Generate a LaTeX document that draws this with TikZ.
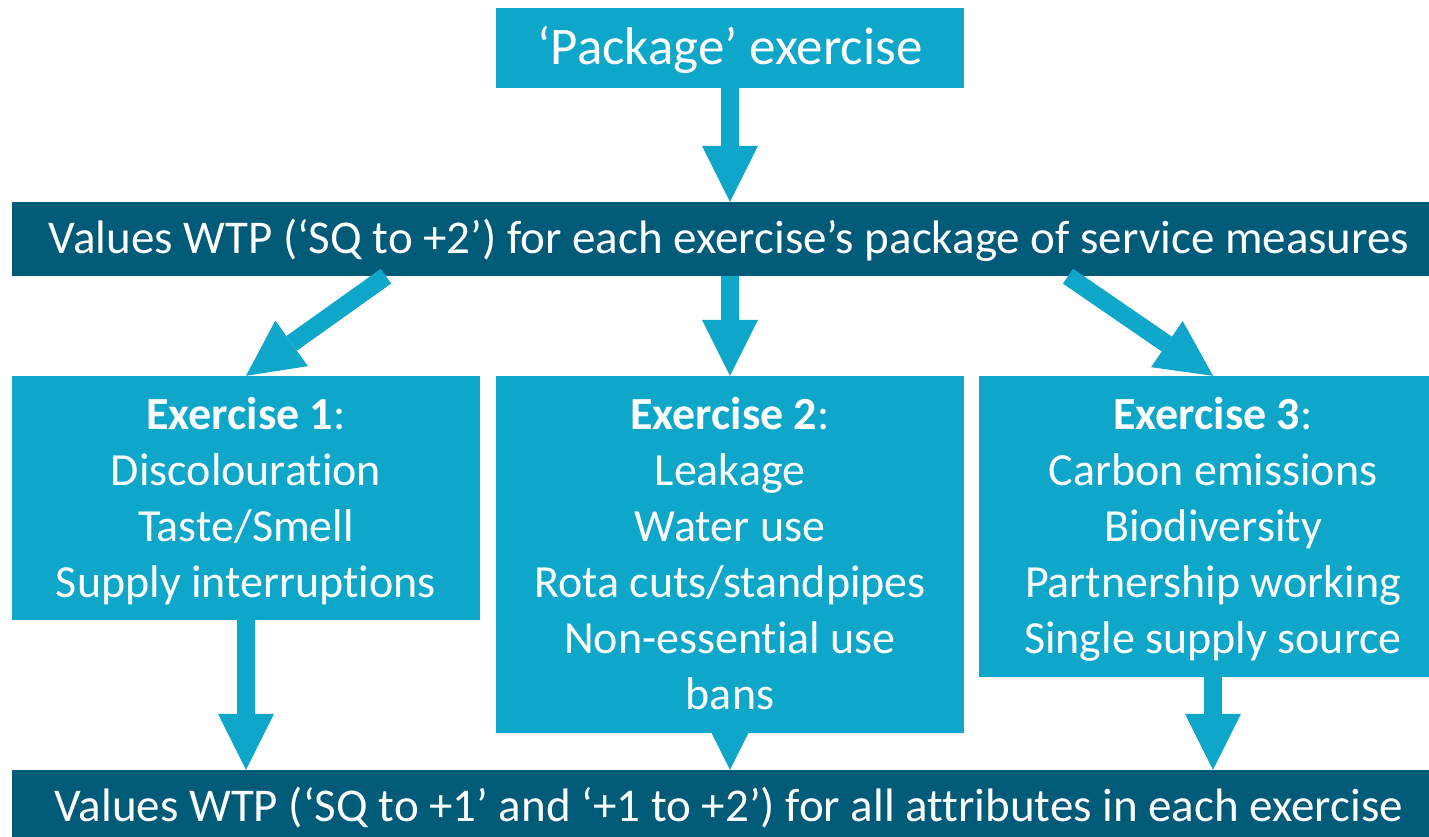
\documentclass[tikz,border=0pt]{standalone}
\usepackage{fontspec}
\setmainfont{Carlito}[Ligatures=NoCommon]
\usetikzlibrary{arrows.meta,calc}
\pgfdeclarelayer{background}
\pgfsetlayers{background,main}
\definecolor{lite}{RGB}{14,167,201}
\definecolor{deep}{RGB}{0,91,120}
\newcommand\topstrut{\rule{0pt}{42pt}}
\newcommand\botstrut{\rule[-12pt]{0pt}{12pt}}
\tikzset{
  panel/.style={fill=lite, text=white, inner sep=0pt, align=center,
    font=\fontsize{46}{56}\selectfont},
  banner/.style={fill=deep, text=white, inner sep=0pt,
    font=\fontsize{47}{56}\selectfont},
  flow/.style={draw=lite, line width=18pt,
    -{Triangle[length=56pt,width=56pt,line width=0pt]}}
}
\begin{document}
\begin{tikzpicture}[x=1pt,y=-1pt]
\useasboundingbox (0,0) rectangle (1429,837);

\node[panel, minimum width=468pt, minimum height=80pt,
      text height=40pt, text depth=6pt, font=\fontsize{53}{60}\selectfont]
  (pkg) at (730,48) {‘Package’ exercise};

\node[banner, minimum width=1434pt, minimum height=74pt,
      text height=38pt, text depth=10pt]
  (whole) at (729,239)
  {Values WTP (‘SQ to +2’) for each exercise’s package of service measures};

\node[panel, minimum width=468pt, minimum height=244pt] (ex1) at (246,498)
  {\topstrut\textbf{Exercise 1}:\\Discolouration\\Taste/Smell\\Supply interruptions\botstrut};
\node[panel, minimum width=468pt, minimum height=357pt] (ex2) at (730,554.5)
  {\topstrut\textbf{Exercise 2}:\\Leakage\\Water use\\Rota cuts/standpipes\\Non-essential use\\bans\botstrut};
\node[panel, minimum width=468pt, minimum height=301pt] (ex3) at (1213,526.5)
  {\topstrut\textbf{Exercise 3}:\\Carbon emissions\\Biodiversity\\Partnership working\\Single supply source\botstrut};

\node[banner, minimum width=1434pt, minimum height=67pt,
      text height=42pt, text depth=6pt]
  (attr) at (729,803.5)
  {Values WTP (‘SQ to +1’ and ‘+1 to +2’) for all attributes in each exercise};

% connectors
\coordinate (dl) at ($(whole.south)+(-343,0)$);
\coordinate (dr) at ($(whole.south)+(339,0)$);
\coordinate (out2) at ($(ex2.south)+(0,-40)$);

\draw[flow] (pkg.south) -- (pkg.south |- whole.north);
\draw[flow] (dl) -- (ex1.north);
\draw[flow] (ex2.north |- whole.south) -- (ex2.north);
\draw[flow] (dr) -- (ex3.north);
\draw[flow] (ex1.south) -- (ex1.south |- attr.north);
\draw[flow] (ex3.south) -- (ex3.south |- attr.north);
\begin{pgfonlayer}{background}
  \draw[flow] (out2) -- (out2 |- attr.north);
\end{pgfonlayer}
\end{tikzpicture}
\end{document}
